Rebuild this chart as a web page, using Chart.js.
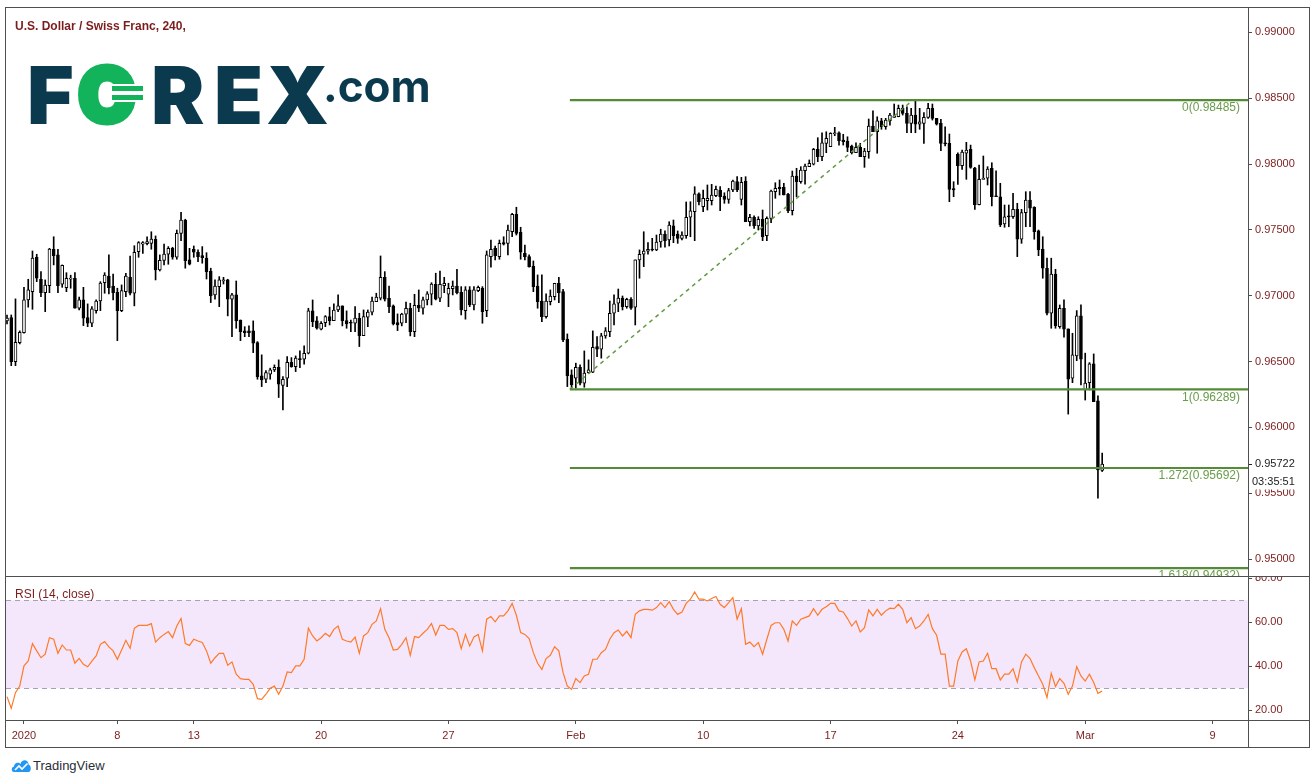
<!DOCTYPE html>
<html>
<head>
<meta charset="utf-8">
<title>U.S. Dollar / Swiss Franc, 240</title>
<script src="https://cdn.jsdelivr.net/npm/chart.js@4.4.1/dist/chart.umd.min.js"></script>
<style>
  html, body { margin: 0; padding: 0; background: #fff; }
  body { width: 1315px; height: 784px; position: relative; overflow: hidden;
         font-family: "Liberation Sans", Arial, Helvetica, sans-serif; }
  canvas { position: absolute; left: 0; }
  #priceCanvas { top: 8px; }
  #rsiCanvas { top: 577px; }
  .rule { position: absolute; background: #4f4f4f; }
  .label { position: absolute; white-space: nowrap; color: #7b1d1d; }
  #title { left: 15px; top: 19px; font-weight: bold; font-size: 12px; line-height: 14px; }
  #rsiTitle { left: 15px; top: 587px; font-size: 12px; line-height: 14px; }
  .logo { position: absolute; font-family: Inter, Lato, "Open Sans", sans-serif; font-weight: 900;
          font-size: 80px; line-height: 80px; color: #0b3a4e; top: 55px; }
  .logo.green { color: #13b35b; font-size: 75px; line-height: 75px; top: 57px;
                -webkit-text-stroke: 5px #13b35b; }
  .logo.dotcom { font-size: 44px; line-height: 44px; font-weight: 700; top: 64px; }
  .coinbar { position: absolute; background: #13b35b; border-top: 2px solid #fff; border-bottom: 2px solid #fff;
             height: 5px; width: 31px; left: 112px; }
  #tvText { position: absolute; left: 33px; top: 758px; font-size: 13px; line-height: 16px; color: #2a2e39; }
</style>
</head>
<body>
<canvas id="priceCanvas" width="1315" height="568"></canvas>
<canvas id="rsiCanvas" width="1315" height="170"></canvas>

<!-- pane frame and separators -->
<div class="rule" style="left:5px;top:7px;width:1305px;height:1px"></div>
<div class="rule" style="left:5px;top:747px;width:1305px;height:1px"></div>
<div class="rule" style="left:5px;top:7px;width:1px;height:741px"></div>
<div class="rule" style="left:1309px;top:7px;width:1px;height:741px"></div>
<div class="rule" style="left:1248px;top:8px;width:1px;height:739px"></div>
<div class="rule" style="left:6px;top:576px;width:1303px;height:1px"></div>
<div class="rule" style="left:6px;top:720px;width:1303px;height:1px"></div>

<div id="title" class="label">U.S. Dollar / Swiss Franc, 240,</div>
<div id="rsiTitle" class="label">RSI (14, close)</div>

<!-- FOREX.com wordmark -->
<span class="logo" style="left:27px">F</span>
<span class="logo green" style="left:78px">O</span>
<div class="coinbar" style="top:84px"></div>
<div class="coinbar" style="top:93px"></div>
<span class="logo" style="left:151px">R</span>
<span class="logo" style="left:214px">E</span>
<span class="logo" style="left:266px">X</span>
<span class="logo dotcom" style="left:323px">.com</span>

<!-- footer -->
<svg width="21" height="15" viewBox="0 0 21 15" style="position:absolute;left:11px;top:758px">
  <path d="M3 14 C0 14 0 9 3 8.5 C3 4.5 8 3.5 9.5 6 C10.5 1 17.5 1 17.5 6.5 C20.5 7 20.5 14 17.5 14 Z" fill="#2196f3"/>
  <path d="M4 12 L8 8 L11 11 L16.5 5.5" stroke="#fff" stroke-width="1.7" fill="none"/>
</svg>
<div id="tvText">TradingView</div>

<script>
// ---- 240-minute USD/CHF candles, 2 Jan – 3 Mar 2020 ----
const opens = [
  0.96809,0.96834,0.96500,0.96644,0.96720,0.96968,0.97031,0.97292,0.97125,0.97023,
  0.97077,0.97353,0.97310,0.97087,0.97061,0.97125,0.97133,0.96905,0.96968,0.96834,
  0.96791,0.96887,0.96960,0.97099,0.97150,0.97074,0.97026,0.96887,0.97031,0.97140,
  0.97019,0.97335,0.97391,0.97395,0.97398,0.97429,0.97196,0.97269,0.97315,0.97360,
  0.97292,0.97474,0.97575,0.97272,0.97353,0.97330,0.97304,0.97285,0.97188,0.97006,
  0.97069,0.97112,0.97120,0.96973,0.97006,0.96816,0.96733,0.96733,0.96733,0.96644,
  0.96391,0.96366,0.96404,0.96437,0.96457,0.96318,0.96374,0.96495,0.96462,0.96520,
  0.96518,0.96563,0.96885,0.96809,0.96746,0.96796,0.96841,0.96811,0.96892,0.96923,
  0.96811,0.96796,0.96791,0.96829,0.96697,0.96837,0.96875,0.96955,0.96981,0.97140,
  0.96981,0.96923,0.96796,0.96791,0.96860,0.96905,0.96727,0.96928,0.96905,0.96968,
  0.97011,0.97087,0.96981,0.97077,0.97011,0.97054,0.97074,0.97026,0.96887,0.97044,
  0.96930,0.97039,0.97057,0.96887,0.97297,0.97360,0.97297,0.97403,0.97398,0.97486,
  0.97619,0.97482,0.97322,0.97297,0.97226,0.97074,0.96960,0.96841,0.96955,0.96993,
  0.97095,0.97031,0.96670,0.96399,0.96374,0.96457,0.96336,0.96416,0.96419,0.96614,
  0.96594,0.96695,0.96727,0.96867,0.96943,0.96983,0.96917,0.96973,0.96913,0.97272,
  0.97315,0.97338,0.97355,0.97347,0.97408,0.97469,0.97423,0.97530,0.97469,0.97436,
  0.97456,0.97596,0.97638,0.97773,0.97676,0.97722,0.97722,0.97760,0.97803,0.97757,
  0.97732,0.97803,0.97866,0.97732,0.97871,0.97562,0.97596,0.97530,0.97581,0.97456,
  0.97588,0.97790,0.97823,0.97823,0.97770,0.97646,0.97909,0.97866,0.97949,0.97980,
  0.98000,0.98112,0.98056,0.98157,0.98132,0.98230,0.98238,0.98182,0.98175,0.98137,
  0.98086,0.98127,0.98056,0.98094,0.98289,0.98245,0.98329,0.98283,0.98329,0.98355,
  0.98359,0.98423,0.98385,0.98309,0.98372,0.98302,0.98309,0.98355,0.98423,0.98347,
  0.98309,0.98162,0.98157,0.97813,0.98074,0.97987,0.98082,0.98112,0.97970,0.97691,
  0.97884,0.97892,0.97968,0.97757,0.97752,0.97545,0.97606,0.97600,0.97656,0.97429,
  0.97631,0.97727,0.97672,0.97492,0.97353,0.97209,0.96867,0.97165,0.96765,0.96905,
  0.96748,0.96374,0.96543,0.96847,0.96285,0.96340,0.96482,0.96201,0.95673
];
const highs = [
  0.96854,0.96854,0.96976,0.96733,0.97064,0.97125,0.97340,0.97315,0.97183,0.97120,
  0.97360,0.97448,0.97353,0.97234,0.97175,0.97156,0.97175,0.96989,0.97064,0.96938,
  0.96917,0.96968,0.97107,0.97175,0.97310,0.97165,0.97057,0.97082,0.97171,0.97302,
  0.97380,0.97411,0.97411,0.97448,0.97486,0.97454,0.97310,0.97393,0.97373,0.97368,
  0.97499,0.97634,0.97581,0.97360,0.97378,0.97348,0.97373,0.97327,0.97209,0.97120,
  0.97145,0.97140,0.97125,0.97019,0.97112,0.96816,0.96765,0.96771,0.96809,0.96652,
  0.96551,0.96431,0.96450,0.96475,0.96513,0.96386,0.96538,0.96530,0.96543,0.96581,
  0.96619,0.96905,0.96968,0.96841,0.96803,0.96849,0.96913,0.96938,0.97006,0.96923,
  0.96885,0.96816,0.96917,0.96867,0.96892,0.96892,0.96989,0.97019,0.97302,0.97183,
  0.97074,0.96930,0.96862,0.96867,0.96951,0.96943,0.97011,0.97044,0.96989,0.97031,
  0.97099,0.97171,0.97188,0.97140,0.97095,0.97112,0.97201,0.97069,0.97069,0.97069,
  0.97069,0.97074,0.97069,0.97340,0.97423,0.97378,0.97423,0.97448,0.97537,0.97626,
  0.97672,0.97520,0.97385,0.97310,0.97264,0.97158,0.97158,0.97014,0.97044,0.97095,
  0.97140,0.97049,0.96710,0.96437,0.96488,0.96475,0.96581,0.96513,0.96733,0.96689,
  0.96715,0.96758,0.96960,0.97006,0.97051,0.96998,0.96981,0.96986,0.97272,0.97348,
  0.97486,0.97403,0.97436,0.97461,0.97505,0.97492,0.97562,0.97575,0.97492,0.97486,
  0.97712,0.97714,0.97828,0.97782,0.97803,0.97841,0.97846,0.97833,0.97828,0.97782,
  0.97816,0.97879,0.97904,0.97899,0.97904,0.97619,0.97606,0.97600,0.97651,0.97600,
  0.97803,0.97858,0.97879,0.97854,0.97778,0.97947,0.97968,0.97980,0.98000,0.98031,
  0.98119,0.98200,0.98238,0.98245,0.98238,0.98279,0.98245,0.98226,0.98207,0.98144,
  0.98162,0.98157,0.98119,0.98342,0.98405,0.98359,0.98347,0.98347,0.98385,0.98456,
  0.98448,0.98448,0.98435,0.98423,0.98485,0.98423,0.98390,0.98461,0.98456,0.98347,
  0.98340,0.98283,0.98228,0.97866,0.98086,0.98106,0.98165,0.98144,0.97975,0.97993,
  0.98061,0.97980,0.98010,0.97949,0.97854,0.97689,0.97689,0.97778,0.97702,0.97656,
  0.97790,0.97790,0.97676,0.97499,0.97448,0.97285,0.97285,0.97201,0.96930,0.96968,
  0.96748,0.96715,0.96887,0.96930,0.96564,0.96492,0.96558,0.96239,0.95805
];
const lows = [
  0.96786,0.96469,0.96469,0.96634,0.96715,0.96913,0.96897,0.97107,0.96993,0.96879,
  0.97023,0.97234,0.97023,0.97064,0.97031,0.97057,0.96905,0.96892,0.96773,0.96765,
  0.96765,0.96867,0.96887,0.97019,0.97014,0.96968,0.96659,0.96879,0.96993,0.97006,
  0.96923,0.97292,0.97322,0.97385,0.97353,0.97120,0.97188,0.97234,0.97239,0.97277,
  0.97277,0.97418,0.97209,0.97234,0.97292,0.97259,0.97247,0.97127,0.96948,0.96973,
  0.96917,0.97089,0.96847,0.96689,0.96753,0.96659,0.96689,0.96689,0.96568,0.96366,
  0.96310,0.96340,0.96366,0.96424,0.96227,0.96133,0.96310,0.96457,0.96424,0.96454,
  0.96480,0.96558,0.96765,0.96746,0.96740,0.96765,0.96778,0.96811,0.96879,0.96771,
  0.96753,0.96727,0.96727,0.96614,0.96697,0.96765,0.96854,0.96955,0.96968,0.96960,
  0.96872,0.96778,0.96735,0.96771,0.96796,0.96695,0.96689,0.96879,0.96860,0.96930,
  0.96930,0.96968,0.96955,0.97023,0.96917,0.97006,0.97014,0.96854,0.96822,0.96917,
  0.96892,0.97031,0.96791,0.96841,0.97216,0.97272,0.97277,0.97385,0.97310,0.97448,
  0.97461,0.97277,0.97272,0.97216,0.97031,0.96905,0.96803,0.96829,0.96930,0.96968,
  0.96948,0.96652,0.96310,0.96298,0.96298,0.96323,0.96305,0.96412,0.96416,0.96538,
  0.96526,0.96677,0.96689,0.96778,0.96879,0.96892,0.96905,0.96897,0.96778,0.97133,
  0.97221,0.97315,0.97340,0.97342,0.97368,0.97368,0.97378,0.97403,0.97398,0.97423,
  0.97436,0.97448,0.97418,0.97689,0.97638,0.97651,0.97689,0.97752,0.97646,0.97702,
  0.97702,0.97790,0.97790,0.97689,0.97562,0.97530,0.97512,0.97499,0.97418,0.97418,
  0.97555,0.97740,0.97765,0.97765,0.97631,0.97613,0.97752,0.97854,0.97848,0.97980,
  0.97993,0.98018,0.98025,0.98086,0.98132,0.98215,0.98144,0.98144,0.98094,0.98076,
  0.98086,0.98056,0.97975,0.98044,0.98245,0.98082,0.98264,0.98264,0.98296,0.98355,
  0.98359,0.98372,0.98238,0.98238,0.98238,0.98264,0.98157,0.98347,0.98334,0.98296,
  0.98101,0.98137,0.97714,0.97752,0.97846,0.97960,0.97884,0.97968,0.97656,0.97689,
  0.97884,0.97841,0.97682,0.97752,0.97524,0.97520,0.97524,0.97588,0.97297,0.97398,
  0.97524,0.97524,0.97429,0.97304,0.97133,0.96854,0.96753,0.96753,0.96753,0.96685,
  0.96101,0.96340,0.96507,0.96323,0.96208,0.96285,0.96196,0.95463,0.95665
];
const closes = [
  0.96831,0.96500,0.96647,0.96723,0.96968,0.97044,0.97285,0.97133,0.97023,0.97080,
  0.97355,0.97304,0.97077,0.97231,0.97133,0.97135,0.96905,0.96968,0.96829,0.96791,
  0.96900,0.96960,0.97097,0.97156,0.97061,0.97023,0.96887,0.97039,0.97150,0.97019,
  0.97330,0.97403,0.97403,0.97411,0.97431,0.97196,0.97269,0.97317,0.97360,0.97292,
  0.97474,0.97575,0.97266,0.97239,0.97330,0.97297,0.97289,0.97183,0.97001,0.97074,
  0.97120,0.97120,0.96973,0.97006,0.96811,0.96727,0.96720,0.96720,0.96639,0.96386,
  0.96361,0.96416,0.96437,0.96457,0.96328,0.96366,0.96495,0.96462,0.96526,0.96515,
  0.96563,0.96885,0.96803,0.96753,0.96791,0.96841,0.96811,0.96892,0.96923,0.96811,
  0.96786,0.96791,0.96831,0.96697,0.96841,0.96875,0.96960,0.96989,0.97140,0.96973,
  0.96917,0.96786,0.96778,0.96860,0.96905,0.96727,0.96928,0.96905,0.96968,0.97014,
  0.97089,0.96973,0.97087,0.97095,0.97057,0.97074,0.97023,0.96892,0.97044,0.96930,
  0.97044,0.97064,0.96879,0.97310,0.97353,0.97304,0.97398,0.97391,0.97499,0.97619,
  0.97474,0.97330,0.97297,0.97221,0.97069,0.96955,0.96841,0.96960,0.96998,0.97095,
  0.97023,0.96664,0.96393,0.96323,0.96457,0.96336,0.96412,0.96437,0.96609,0.96594,
  0.96695,0.96733,0.96867,0.96938,0.96983,0.96917,0.96973,0.96905,0.97272,0.97315,
  0.97340,0.97353,0.97347,0.97408,0.97469,0.97418,0.97537,0.97456,0.97436,0.97461,
  0.97596,0.97644,0.97773,0.97714,0.97740,0.97740,0.97765,0.97808,0.97752,0.97732,
  0.97798,0.97871,0.97803,0.97861,0.97562,0.97596,0.97532,0.97581,0.97448,0.97588,
  0.97795,0.97816,0.97813,0.97765,0.97646,0.97909,0.97866,0.97955,0.97985,0.98006,
  0.98112,0.98056,0.98162,0.98195,0.98233,0.98238,0.98177,0.98170,0.98127,0.98086,
  0.98127,0.98056,0.98099,0.98289,0.98245,0.98329,0.98283,0.98334,0.98372,0.98365,
  0.98423,0.98385,0.98309,0.98372,0.98302,0.98321,0.98355,0.98423,0.98347,0.98302,
  0.98157,0.98152,0.97808,0.97803,0.97987,0.98091,0.98106,0.97975,0.97691,0.97884,
  0.97892,0.97962,0.97752,0.97752,0.97537,0.97600,0.97598,0.97656,0.97429,0.97631,
  0.97727,0.97664,0.97486,0.97347,0.97209,0.96867,0.97165,0.96773,0.96905,0.96746,
  0.96366,0.96551,0.96847,0.96518,0.96336,0.96482,0.96196,0.95678,0.95722
];
// RSI(14, close) per candle
const rsiValues = [
  26.2,20.9,28.0,31.0,40.2,42.4,50.3,47.0,43.9,45.5,
  53.0,52.3,45.9,49.7,47.4,47.4,41.4,43.6,40.9,39.8,
  42.4,44.7,50.0,51.2,48.8,47.0,43.2,47.4,51.8,48.2,
  57.3,58.6,58.6,58.6,59.4,51.0,53.0,54.5,55.8,53.0,
  58.3,61.7,50.3,49.5,52.3,51.5,50.8,47.0,41.4,43.9,
  45.9,45.9,40.5,42.0,36.4,34.4,34.1,34.1,31.8,25.3,
  25.0,27.3,30.0,31.0,27.3,31.0,37.4,37.1,40.2,40.2,
  43.2,57.3,53.8,51.5,53.0,55.0,53.5,56.8,58.3,52.3,
  51.5,51.0,53.3,45.9,53.8,55.3,59.1,60.6,66.2,56.8,
  53.0,47.4,47.7,50.0,53.0,45.0,53.5,53.0,55.0,56.8,
  59.4,54.2,58.6,58.6,56.8,57.1,55.3,48.0,54.5,49.2,
  53.3,54.5,47.0,61.4,62.6,60.2,62.9,62.9,65.2,68.6,
  63.2,55.3,54.5,52.6,46.2,41.4,38.6,43.5,45.0,48.9,
  47.0,37.1,31.0,29.5,34.4,32.6,35.6,36.4,43.2,43.2,
  46.2,47.7,52.3,55.3,56.5,53.8,55.9,53.0,63.6,65.2,
  65.9,65.9,65.5,66.7,68.9,66.7,69.4,65.9,63.6,64.7,
  68.6,70.5,73.8,70.5,70.5,69.7,70.8,71.7,68.2,66.7,
  68.9,71.2,61.4,66.2,50.0,51.0,48.9,50.8,45.5,52.3,
  58.6,59.8,59.8,56.8,51.5,60.6,58.6,61.4,62.1,62.9,
  66.2,63.2,65.9,67.1,68.6,68.6,65.2,64.7,61.7,58.3,
  60.6,55.6,57.6,65.6,62.9,65.9,63.2,65.2,66.4,66.2,
  68.2,65.9,59.8,62.1,57.1,58.3,60.6,63.6,57.1,54.1,
  45.5,45.5,31.0,31.0,42.4,46.5,48.0,42.4,33.8,42.0,
  42.4,45.9,38.9,38.9,33.8,36.4,36.4,38.9,32.9,42.0,
  45.5,43.5,39.4,35.6,31.8,25.8,36.8,30.8,34.4,32.3,
  27.3,31.0,39.8,35.6,33.3,36.4,32.6,27.7,28.8
];

// time axis: candle index of each session label
const dateTickIndex  = [4, 26, 44, 74, 104, 134, 164, 194, 224, 254, 284];
const dateTickLabels = ['2020', '8', '13', '20', '27', 'Feb', '10', '17', '24', 'Mar', '9'];
const priceTicks = [0.95, 0.955, 0.96, 0.965, 0.97, 0.975, 0.98, 0.985, 0.99];
const rsiTicks = [20, 40, 60, 80];

// Fibonacci extension drawn from the 31 Jan low to the 20 Feb high
const fibRatios = ['0', '1', '1.272', '1.618'];
const fibPrices = [0.98485, 0.96289, 0.95692, 0.94932];
const FIB_FROM = 132.6;   // anchor at the swing low candle
const FIB_TO = 213.4;     // anchor at the swing high candle
const COUNTDOWN = '03:35:51';

// ---- styling ----
const MAROON = '#7b1d1d';
const AXIS = '#4f4f4f';
const FIB_LINE = '#548b36';
const FIB_TEXT = '#6b9c4c';
const RSI_ORANGE = '#ff7a28';
const BAND_FILL = '#f4e7fc';
const BAND_LINE = '#a8a1b0';
const FONT = "'Liberation Sans', Arial, Helvetica, sans-serif";

const X_MIN = -0.2356, X_MAX = 292.35;
const PRICE_MIN = 0.948717, PRICE_MAX = 0.99185;
const RSI_MIN = 15.59, RSI_MAX = 80.59;

Chart.defaults.font.family = FONT;
Chart.defaults.font.size = 11;

const candleBodies = opens.map((o, i) => ({ x: i, y: [o, closes[i]] }));
const candleWicks = lows.map((l, i) => ({ x: i, y: [l, highs[i]] }));
const bodyColors = opens.map((o, i) => (closes[i] >= o ? '#ffffff' : '#000000'));

const fibDatasets = fibPrices.map((p, i) => ({
  type: 'line', label: 'Fib ' + fibRatios[i],
  data: [{ x: FIB_FROM, y: p }, { x: X_MAX, y: p }],
  borderColor: FIB_LINE, borderWidth: 2.2, pointRadius: 0, order: 1
}));

const fibLabelPlugin = {
  id: 'fibLabels',
  afterDraw(chart) {
    const { ctx, chartArea, scales: { y } } = chart;
    ctx.save();
    ctx.font = '12px ' + FONT;
    ctx.fillStyle = FIB_TEXT;
    ctx.textAlign = 'right';
    ctx.textBaseline = 'middle';
    fibPrices.forEach((p, i) => {
      ctx.fillText(fibRatios[i] + '(' + p.toFixed(5) + ')', chartArea.right - 8, y.getPixelForValue(p) + 8);
    });
    // last price marker with bar countdown
    const last = closes[closes.length - 1];
    const yp = Math.round(y.getPixelForValue(last));
    ctx.fillStyle = '#ffffff';
    ctx.fillRect(chartArea.right + 1, yp - 9, 66, 34.5);
    ctx.fillStyle = '#222';
    ctx.fillRect(chartArea.right, yp, 4, 1);
    ctx.font = '11px ' + FONT;
    ctx.textAlign = 'left';
    ctx.fillText(last.toFixed(5), chartArea.right + 7, yp);
    ctx.fillText(COUNTDOWN, chartArea.right + 4, yp + 18);
    ctx.restore();
  }
};

new Chart(document.getElementById('priceCanvas'), {
  type: 'bar',
  data: {
    datasets: [
      { label: 'Wicks', data: candleWicks, backgroundColor: '#000', borderWidth: 0,
        barThickness: 1, grouped: false, order: 3 },
      { label: 'USD/CHF', data: candleBodies, backgroundColor: bodyColors, borderColor: '#000',
        borderWidth: 1, borderSkipped: false, barThickness: 3, minBarLength: 1, grouped: false, order: 2 },
      ...fibDatasets,
      { type: 'line', label: 'Trend', data: [{ x: FIB_FROM, y: fibPrices[1] }, { x: FIB_TO, y: fibPrices[0] }],
        borderColor: '#5f9a40', borderWidth: 1.5, borderDash: [4, 4], pointRadius: 0, order: 1 }
    ]
  },
  options: {
    responsive: false, animation: false, devicePixelRatio: 1,
    layout: { padding: { left: 6, right: 0, top: 0, bottom: 0 } },
    plugins: { legend: { display: false }, tooltip: { enabled: false } },
    scales: {
      x: { type: 'linear', min: X_MIN, max: X_MAX, display: false, offset: false },
      y: {
        position: 'right', min: PRICE_MIN, max: PRICE_MAX, beginAtZero: false,
        afterFit: s => { s.width = 67; s.paddingTop = 0; s.paddingBottom = 0; },
        afterBuildTicks: s => { s.ticks = priceTicks.map(v => ({ value: v })); },
        ticks: { callback: v => v.toFixed(5), color: MAROON, padding: 3, autoSkip: false },
        grid: { drawOnChartArea: false, tickLength: 4, color: AXIS },
        border: { display: false }
      }
    }
  },
  plugins: [fibLabelPlugin]
});

const rsiBandPlugin = {
  id: 'rsiBand',
  beforeDatasetsDraw(chart) {
    const { ctx, chartArea: a, scales: { y } } = chart;
    const top = y.getPixelForValue(70), bot = y.getPixelForValue(30);
    ctx.save();
    ctx.fillStyle = BAND_FILL;
    ctx.fillRect(a.left, top, a.right - a.left, bot - top);
    ctx.strokeStyle = BAND_LINE;
    ctx.lineWidth = 1;
    ctx.setLineDash([5, 4]);
    [top, bot].forEach(py => {
      ctx.beginPath();
      ctx.moveTo(a.left, Math.round(py) + 0.5);
      ctx.lineTo(a.right, Math.round(py) + 0.5);
      ctx.stroke();
    });
    ctx.restore();
  }
};

new Chart(document.getElementById('rsiCanvas'), {
  type: 'line',
  data: {
    datasets: [{ label: 'RSI', data: rsiValues.map((v, i) => ({ x: i, y: v })),
      borderColor: RSI_ORANGE, borderWidth: 1.2, pointRadius: 0, tension: 0 }]
  },
  options: {
    responsive: false, animation: false, devicePixelRatio: 1,
    layout: { padding: { left: 6, right: 0, top: 0, bottom: 0 } },
    plugins: { legend: { display: false }, tooltip: { enabled: false } },
    scales: {
      x: {
        type: 'linear', min: X_MIN, max: X_MAX, offset: false,
        afterFit: s => { s.height = 27; s.paddingLeft = 0; s.paddingRight = 0; },
        afterBuildTicks: s => { s.ticks = dateTickIndex.map(v => ({ value: v })); },
        ticks: { autoSkip: false, maxRotation: 0, padding: 5, color: MAROON,
                 callback: (v, i) => dateTickLabels[i] },
        grid: { drawOnChartArea: false, tickLength: 4, color: AXIS },
        border: { display: false }
      },
      y: {
        position: 'right', min: RSI_MIN, max: RSI_MAX,
        afterFit: s => { s.width = 67; s.paddingTop = 0; s.paddingBottom = 0; },
        afterBuildTicks: s => { s.ticks = rsiTicks.map(v => ({ value: v })); },
        ticks: { callback: v => v.toFixed(2), color: MAROON, padding: 3, autoSkip: false },
        grid: { drawOnChartArea: false, tickLength: 4, color: AXIS },
        border: { display: false }
      }
    }
  },
  plugins: [rsiBandPlugin]
});
</script>
</body>
</html>
